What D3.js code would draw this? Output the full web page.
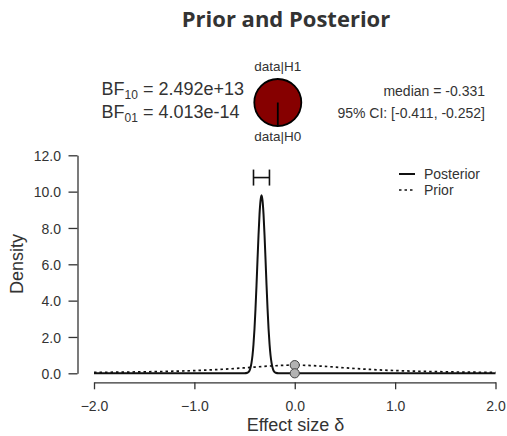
<!DOCTYPE html>
<html>
<head>
<meta charset="utf-8">
<script src="https://cdn.jsdelivr.net/npm/d3@7"></script>
<style>
  html, body { margin: 0; padding: 0; background: #fff; }
  svg { display: block; }
  text { font-family: "Liberation Sans", Arial, sans-serif; fill: #333; }
</style>
</head>
<body>
<svg id="chart" width="507" height="436"></svg>
<script>
// Posterior density (sampled along effect size δ)
const posteriorX = [-2.0, -0.60, -0.501, -0.471, -0.451, -0.441, -0.431, -0.421, -0.411, -0.401,
  -0.391, -0.381, -0.371, -0.361, -0.351, -0.341, -0.331, -0.321, -0.311, -0.301, -0.291,
  -0.281, -0.271, -0.261, -0.251, -0.241, -0.231, -0.221, -0.211, -0.191, -0.161, -0.06, 2.0];
const posteriorY = [0, 0, 0.002, 0.03, 0.14, 0.30, 0.57, 0.98, 1.6, 2.45,
  3.55, 4.85, 6.25, 7.6, 8.75, 9.5, 9.8, 9.5, 8.75, 7.6, 6.25,
  4.85, 3.55, 2.45, 1.6, 0.98, 0.57, 0.30, 0.14, 0.03, 0.002, 0, 0];

// Prior density
const priorX = [-2.0, -1.75, -1.5, -1.25, -1.0, -0.75, -0.5, -0.25, 0, 0.25, 0.5, 0.75, 1.0, 1.25, 1.5, 1.75, 2.0];
const priorY = [0.050, 0.063, 0.082, 0.109, 0.150, 0.212, 0.300, 0.400, 0.450, 0.400, 0.300, 0.212, 0.150, 0.109, 0.082, 0.063, 0.050];

// Densities at δ = 0
const pointX = [0, 0];
const pointY = [0.45, 0.0];

// Posterior summary
const median = -0.331;
const ciLower = -0.411;
const ciUpper = -0.252;
const bf10Text = "2.492e+13";
const bf01Text = "4.013e-14";
const bf10 = 2.492e13;

// Axis ticks
const xTicks = [-2, -1, 0, 1, 2];
const yTicks = [0, 2, 4, 6, 8, 10, 12];

const legendLabels = ["Posterior", "Prior"];

const svg = d3.select("#chart");

const x = d3.scaleLinear().domain([-2, 2]).range([94, 495.5]);
const y = d3.scaleLinear().domain([0, 12]).range([373.3, 155.3]);

// Title
svg.append("text")
  .attr("x", 286).attr("y", 27)
  .attr("text-anchor", "middle")
  .style("font-family", "'Open Sans', sans-serif")
  .style("font-weight", "bold")
  .style("font-size", "22px")
  .style("fill", "#333")
  .text("Prior and Posterior");

// X axis
const xAxis = svg.append("g")
  .attr("transform", "translate(0,382.3)")
  .call(d3.axisBottom(x).tickValues(xTicks).tickSize(7).tickSizeOuter(0)
    .tickFormat(d3.format(".1f")));
xAxis.selectAll("text")
  .attr("y", 28.4).attr("dy", null)
  .style("font-size", "14px");

// Y axis
const yAxis = svg.append("g")
  .attr("transform", "translate(77.5,0)")
  .call(d3.axisLeft(y).tickValues(yTicks).tickSize(9).tickSizeOuter(0)
    .tickFormat(d3.format(".1f")));
yAxis.selectAll("text")
  .attr("x", -16.5).attr("dy", "0.36em")
  .style("font-size", "14px");

[xAxis, yAxis].forEach(g => {
  g.select(".domain").attr("stroke", "#333").attr("stroke-width", 1.3);
  g.selectAll(".tick line").attr("stroke", "#333").attr("stroke-width", 1.3);
});

// Axis titles
svg.append("text")
  .attr("x", 295.5).attr("y", 431)
  .attr("text-anchor", "middle")
  .style("font-size", "18px")
  .text("Effect size δ");

svg.append("text")
  .attr("transform", "translate(23,264) rotate(-90)")
  .attr("text-anchor", "middle")
  .style("font-size", "18px")
  .text("Density");

// Density curves
const line = d3.line()
  .x(d => x(d[0]))
  .y(d => y(d[1]))
  .curve(d3.curveMonotoneX);

svg.append("path")
  .datum(priorX.map((v, i) => [v, priorY[i]]))
  .attr("d", line)
  .attr("fill", "none")
  .attr("stroke", "#111")
  .attr("stroke-width", 1.7)
  .attr("stroke-dasharray", "2.5,3");

svg.append("path")
  .datum(posteriorX.map((v, i) => [v, posteriorY[i]]))
  .attr("d", line)
  .attr("fill", "none")
  .attr("stroke", "#111")
  .attr("stroke-width", 2);

// Densities at zero
svg.selectAll("circle.pt")
  .data(pointX.map((v, i) => [v, pointY[i]]))
  .join("circle")
  .attr("class", "pt")
  .attr("cx", d => x(d[0]))
  .attr("cy", d => y(d[1]))
  .attr("r", 4.6)
  .attr("fill", "#b3b3b3")
  .attr("stroke", "#444")
  .attr("stroke-width", 1);

// Credible interval bar
const peak = d3.max(posteriorY);
const ciY = y(peak) - 17.7;
const ci = svg.append("g").attr("stroke", "#111").attr("stroke-width", 1.6);
ci.append("line").attr("x1", x(ciLower)).attr("x2", x(ciUpper)).attr("y1", ciY).attr("y2", ciY);
[ciLower, ciUpper].forEach(v => {
  ci.append("line").attr("x1", x(v)).attr("x2", x(v)).attr("y1", ciY - 8).attr("y2", ciY + 8);
});

// Legend
const legend = svg.append("g");
legendLabels.forEach((lab, i) => {
  const ly = 174 + i * 16;
  legend.append("line")
    .attr("x1", 399).attr("x2", 415).attr("y1", ly).attr("y2", ly)
    .attr("stroke", "#111").attr("stroke-width", i === 0 ? 2 : 1.7)
    .attr("stroke-dasharray", i === 0 ? null : "2.5,3");
  legend.append("text")
    .attr("x", 424).attr("y", ly + 5.2)
    .style("font-size", "14px")
    .text(lab);
});

// Bayes factor text
function bfLabel(yPos, sub, val) {
  const t = svg.append("text").attr("x", 101.5).attr("y", yPos).style("font-size", "18px");
  t.append("tspan").text("BF");
  t.append("tspan").attr("dy", 4).style("font-size", "12px").text(sub);
  t.append("tspan").attr("dy", -4).text(" = " + val);
}
bfLabel(95, "10", bf10Text);
bfLabel(118, "01", bf01Text);

// Pie of data|H1 vs data|H0
const pcx = 277.8, pcy = 102.5, pr = 23.5;
const pieData = d3.pie().sort(null).startAngle(Math.PI).endAngle(3 * Math.PI)([bf10 / (1 + bf10), 1 / (1 + bf10)]);
const arc = d3.arc().innerRadius(0).outerRadius(pr);
const pieG = svg.append("g").attr("transform", `translate(${pcx},${pcy})`);
pieG.selectAll("path")
  .data(pieData)
  .join("path")
  .attr("d", arc)
  .attr("fill", (d, i) => i === 0 ? "#860000" : "#fff");
pieG.append("circle").attr("r", pr).attr("fill", "none").attr("stroke", "#000").attr("stroke-width", 1.8);
const a0 = pieData[0].startAngle;
pieG.append("line")
  .attr("x1", 0).attr("y1", 0)
  .attr("x2", pr * Math.sin(a0)).attr("y2", -pr * Math.cos(a0))
  .attr("stroke", "#000").attr("stroke-width", 1.8);

svg.append("text").attr("x", pcx).attr("y", 71).attr("text-anchor", "middle")
  .style("font-size", "13.5px").text("data|H1");
svg.append("text").attr("x", pcx).attr("y", 141).attr("text-anchor", "middle")
  .style("font-size", "13.5px").text("data|H0");

// Median and interval text
svg.append("text").attr("x", 485).attr("y", 95.5).attr("text-anchor", "end")
  .style("font-size", "14px").text("median = " + median.toFixed(3));
svg.append("text").attr("x", 485).attr("y", 118).attr("text-anchor", "end")
  .style("font-size", "14px").text(`95% CI: [${ciLower.toFixed(3)}, ${ciUpper.toFixed(3)}]`);
</script>
</body>
</html>
